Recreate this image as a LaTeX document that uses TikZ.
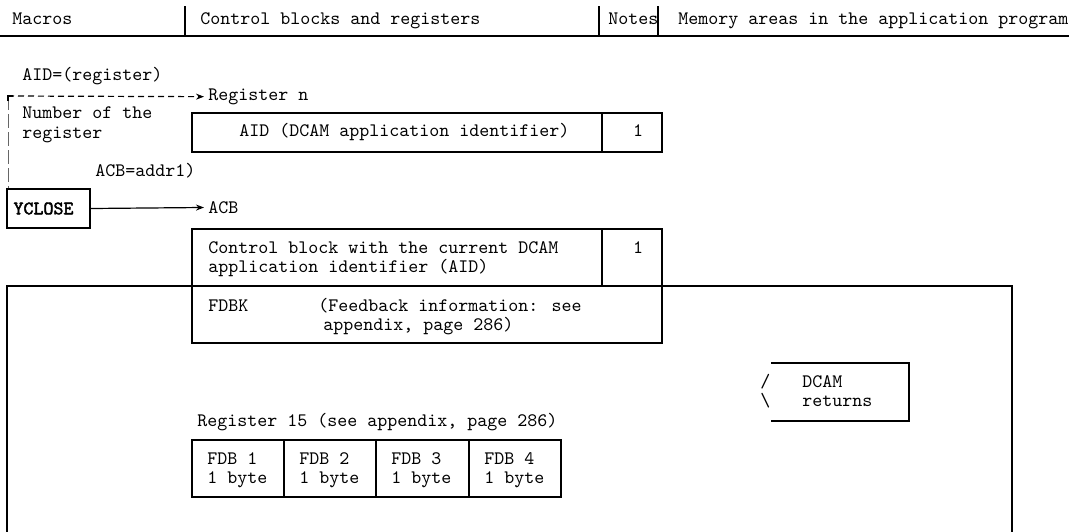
\documentclass[tikz,border=0pt]{standalone}
\usepackage{fontspec}
\newfontfamily\yboldfont[FakeBold=2.2]{lmmono10-regular.otf}
\usetikzlibrary{arrows.meta,calc}
\begin{document}
\begin{tikzpicture}[x=0.5pt,y=-0.5pt,
  txt/.style={anchor=mid west,inner sep=0pt,font=\fontsize{9.52}{10}\selectfont\ttfamily},
  ctxt/.style={anchor=mid,inner sep=0pt,font=\fontsize{9.52}{10}\selectfont\ttfamily},
  frame/.style={line width=1pt,line cap=rect},
  arr/.style={-{Stealth[length=4pt,width=3pt]},line width=0.6pt},
  darr/.style={-{Stealth[length=4pt,width=3pt]},line width=0.6pt,dash pattern=on 3pt off 2pt},
  vdash/.style={line width=0.5pt,black!60,dash pattern=on 7pt off 2pt}]
\useasboundingbox (0,0) rectangle (1082,531);
% header
\node[txt] (hmac) at (12,20) {Macros};
\node[txt] (hcb) at (200,20) {Control blocks and registers};
\node[txt] (hnotes) at (608,20) {Notes};
\node[txt] (hmem) at (678,20) {Memory areas in the application program};
\draw[frame] (0,36) -- (1068,36);
\draw[frame] (185,7) -- (185,36);
\draw[frame] (599,7) -- (599,36);
\draw[frame] (658,7) -- (658,36);
% AID register
\node[txt] (aidreg) at (22,76) {AID=(register)};
\coordinate (corner) at (8,96);
\node[txt,inner xsep=2pt] (regn) at (204,96) {Register n};
\node[txt] (numreg1) at (22,114) {Number of the};
\node[txt] (numreg2) at (22,134) {register};
\draw[frame] (192,113) rectangle (662,152);
\draw[frame] (602,113) -- (602,152);
\node[txt] (aidtxt) at (239,132) {AID (DCAM application identifier)};
\node[ctxt] (note1) at (638,132) {1};
\node[txt] (acbaddr) at (95,172) {ACB=addr1)};
% YCLOSE
\node[draw,frame,minimum height=19.5pt,text width=35pt,inner xsep=3.25pt,inner ysep=0pt,align=left,
      font=\yboldfont\fontsize{9.52}{10}\selectfont] (ycl) at (48.5,208.5) {YCLOSE};
\node[txt,inner xsep=2pt] (acb) at (204,209) {ACB};
\draw[darr] (corner) -- (regn.west);
\draw[vdash] (corner) -- (corner |- ycl.north);
\draw[line width=1pt] ($(corner)+(0,5)$) -- (corner) -- ++(5,0);
\draw[arr] (ycl.east) -- (acb.west);
% control block
\draw[frame] (192,229) rectangle (662,286);
\draw[frame] (602,229) -- (602,286);
\node[txt] (cb1) at (208,249) {Control block with the current DCAM};
\node[txt] (cb2) at (208,268) {application identifier (AID)};
\node[ctxt] (note2) at (638,249) {1};
% big memory frame
\draw[frame] (7,531) -- (7,286) -- (192,286);
\draw[frame] (662,286) -- (1012,286) -- (1012,531);
% FDBK
\draw[frame] (192,286) rectangle (662,343);
\node[txt] (fdbk) at (208,307) {FDBK};
\node[txt] (fb1) at (318,307) {(Feedback information: see};
\node[txt] (fb2) at (323,326) {appendix, page 286)};
% DCAM returns
\draw[frame] (772,363) -- (909,363) -- (909,421) -- (772,421);
\node[txt] (sl1) at (760,383) {/};
\node[txt] (sl2) at (760,402) {\textbackslash};
\node[txt] (dr1) at (802,383) {DCAM};
\node[txt] (dr2) at (802,402) {returns};
% register 15
\node[txt] (r15) at (197,422) {Register 15 (see appendix, page 286)};
\draw[frame] (192,440) rectangle (561,497);
\foreach \x in {284,376,469} \draw[frame] (\x,440) -- (\x,497);
\foreach \x/\i in {192/1,284/2,376/3,469/4} {
  \node[txt] (fdb\i a) at (\x+15,460) {FDB \i};
  \node[txt] (fdb\i b) at (\x+15,479) {1 byte};
}
\end{tikzpicture}
\end{document}
